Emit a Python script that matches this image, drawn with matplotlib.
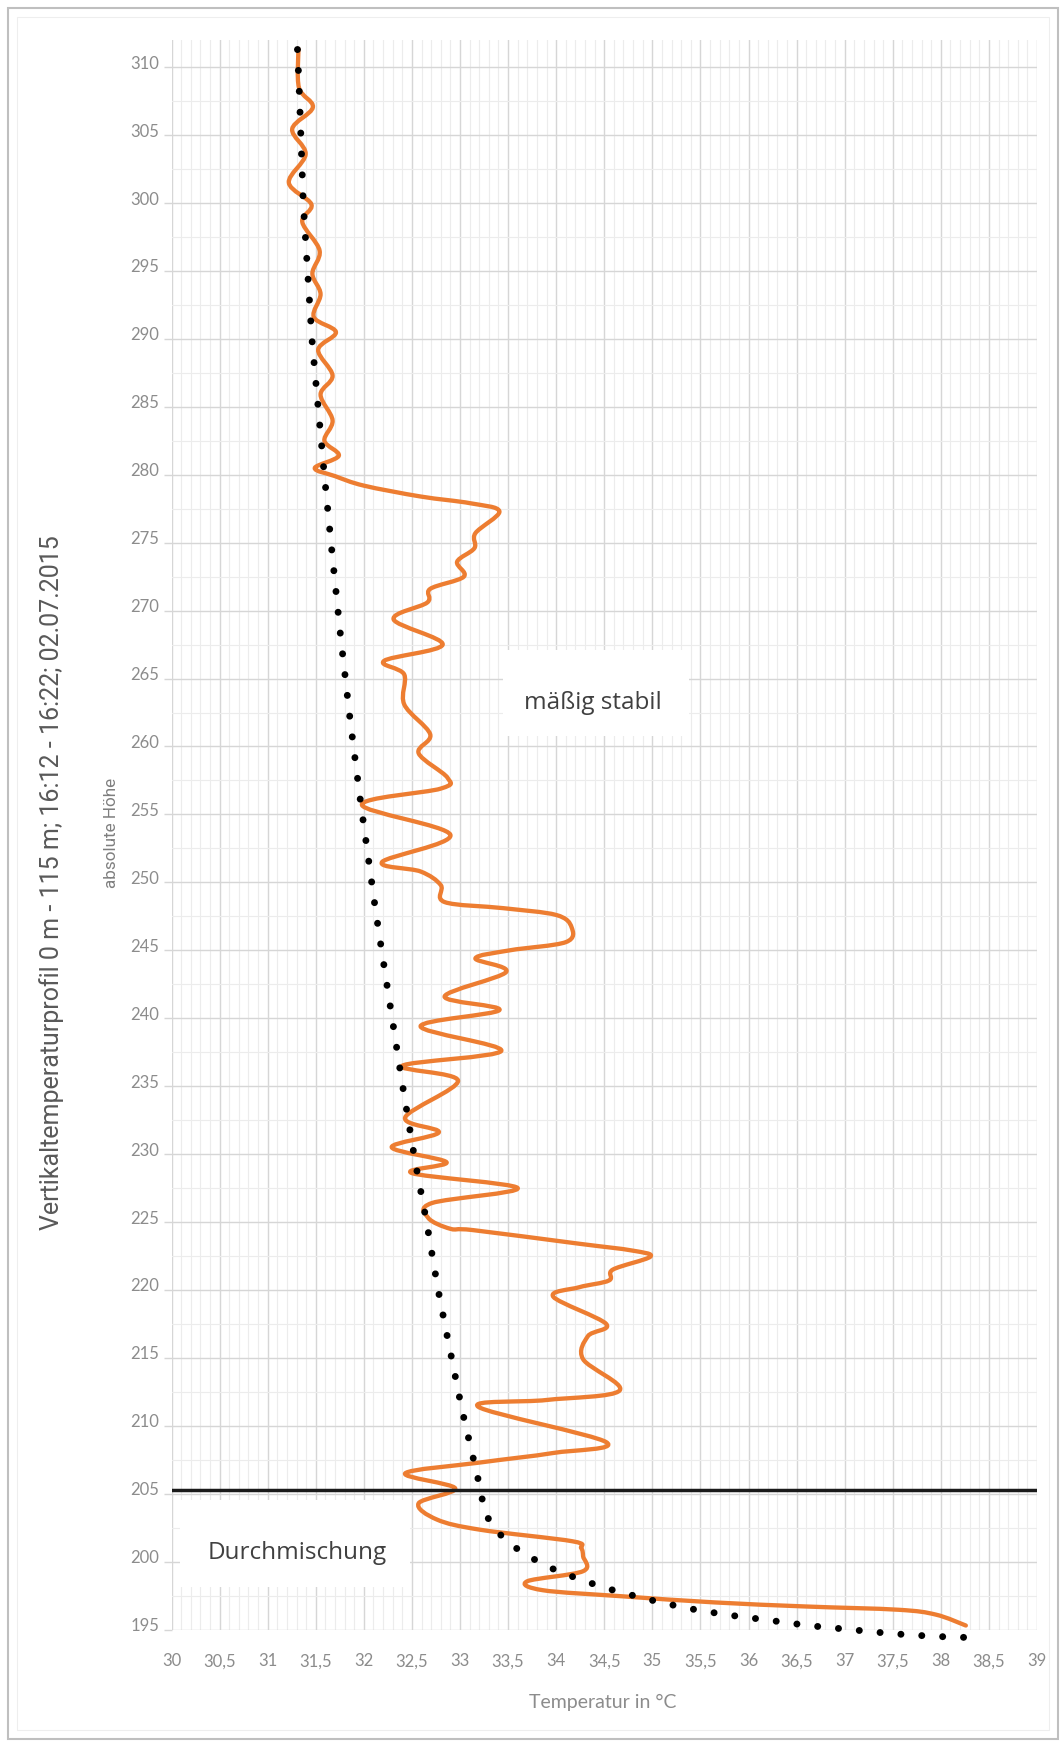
import matplotlib
matplotlib.use("Agg")
import matplotlib.pyplot as plt
from matplotlib.patches import Rectangle, PathPatch
from matplotlib.path import Path
from matplotlib.ticker import MultipleLocator
from matplotlib.transforms import ScaledTranslation

# orange measured profile (temperature, height), top to bottom
profil_temp = [31.32, 31.325, 31.47, 31.255, 31.395, 31.22, 31.455, 31.36, 31.54, 31.465,
               31.55, 31.48, 31.71, 31.525, 31.675, 31.55, 31.675, 31.59, 31.74, 31.49,
               31.7, 32.0, 32.59, 33.11, 33.41, 33.16, 33.15, 32.97, 33.04, 32.69,
               32.66, 32.31, 32.82, 32.21, 32.42, 32.42, 32.69, 32.57, 32.87, 32.80,
               31.98, 32.90, 32.19, 32.59, 32.80, 32.84, 33.45, 34.0, 34.16, 34.1,
               33.52, 33.16, 33.48, 32.84, 33.41, 32.59, 33.43, 32.40, 32.98, 32.43,
               32.78, 32.29, 32.86, 32.5, 33.60, 32.71, 32.67, 32.9, 33.14, 34.24,
               34.79, 34.98, 34.59, 34.55, 34.24, 33.97, 34.52, 34.33, 34.28, 34.66,
               33.90, 33.19, 34.52, 33.97, 33.21, 32.43, 32.95, 32.57, 32.76, 33.21,
               34.17, 34.26, 34.28, 34.28, 33.70, 33.86, 34.69, 35.65, 36.6, 37.56,
               37.95, 38.26]
profil_hoehe = [311.35, 308.5, 307.05, 305.45, 303.6, 301.5, 299.9, 298.6, 296.5, 294.8,
                293.3, 291.6, 290.5, 289.2, 287.3, 285.9, 284.0, 282.5, 281.4, 280.5,
                279.9, 279.2, 278.4, 277.9, 277.3, 275.7, 274.6, 273.6, 272.5, 271.6,
                270.6, 269.35, 267.5, 266.3, 265.3, 263.1, 260.9, 259.5, 257.7, 256.9,
                255.7, 253.5, 251.5, 250.8, 249.8, 248.55, 248.1, 247.6, 246.7, 245.6,
                245.0, 244.4, 243.4, 241.6, 240.6, 239.4, 237.6, 236.5, 235.4, 232.7,
                231.6, 230.5, 229.4, 228.6, 227.5, 226.4, 225.3, 224.5, 224.4, 223.4,
                222.9, 222.45, 221.5, 220.7, 220.2, 219.5, 217.5, 216.6, 214.9, 212.6,
                211.9, 211.4, 208.8, 208.0, 207.3, 206.5, 205.4, 204.3, 203.1, 202.35,
                201.5, 201.0, 200.4, 199.3, 198.56, 197.9, 197.45, 197.0, 196.7, 196.46,
                196.1, 195.3]

# black dotted curve
trend_temp = [31.31, 31.33, 31.37, 31.46, 31.585, 31.67, 31.76, 31.86, 31.97, 32.12,
              32.185, 32.39, 32.53, 32.65, 32.77, 32.85, 33.02, 33.22, 33.25, 33.36,
              33.52, 33.69, 33.89, 34.09, 34.49, 34.91, 35.34, 35.76, 36.20, 36.62,
              37.06, 37.49, 37.93, 38.36]
trend_hoehe = [311.3, 308.0, 300.0, 290.0, 280.3, 274.2, 268.0, 261.8, 255.7, 248.05,
               245.0, 235.6, 229.6, 225.1, 220.1, 217.2, 211.2, 205.1, 203.7, 202.4,
               201.3, 200.5, 199.7, 199.1, 198.1, 197.3, 196.6, 196.1, 195.7, 195.3,
               195.0, 194.7, 194.5, 194.4]

grenze_hoehe = 205.25

x_ticks = [30 + 0.5 * i for i in range(19)]
x_labels = [('%g' % v).replace('.', ',') for v in x_ticks]
y_ticks = list(range(195, 311, 5))


def smooth_path(xs, ys):
    # smoothed line like excel: bezier segments through the read points
    pts = list(zip(xs, ys))
    n = len(pts)
    verts = [pts[0]]
    codes = [Path.MOVETO]
    for i in range(n - 1):
        p0 = pts[i - 1] if i > 0 else pts[i]
        p1 = pts[i]
        p2 = pts[i + 1]
        p3 = pts[i + 2] if i + 2 < n else p2
        c1 = (p1[0] + (p2[0] - p0[0]) / 6, p1[1] + (p2[1] - p0[1]) / 6)
        c2 = (p2[0] - (p3[0] - p1[0]) / 6, p2[1] - (p3[1] - p1[1]) / 6)
        verts += [c1, c2, p2]
        codes += [Path.CURVE4] * 3
    return Path(verts, codes)


W, H = 1062, 1742
fig = plt.figure(figsize=(W / 100, H / 100), dpi=100)
fig.patch.set_facecolor('white')

ax = fig.add_axes([171.5 / W, (H - 1629.6) / H, 865.5 / W, (1629.6 - 40) / H])
ax.set_xlim(30, 39)
ax.set_ylim(195, 312)
for s in ax.spines.values():
    s.set_visible(False)

ax.xaxis.set_minor_locator(MultipleLocator(0.1))
ax.yaxis.set_minor_locator(MultipleLocator(2.5))
ax.set_xticks(x_ticks)
ax.set_xticklabels(x_labels)
ax.set_yticks(y_ticks)
ax.grid(which='major', color='#d6d6d6', lw=1.0)
ax.grid(which='minor', color='#ececec', lw=0.8)
ax.set_axisbelow(True)
ax.tick_params(axis='x', which='both', length=0, pad=17, labelsize=12, labelcolor='#8c8c8c')
ax.tick_params(axis='y', which='major', length=6, color='#d6d6d6', width=1, pad=3,
               labelsize=12, labelcolor='#8c8c8c')
ax.tick_params(axis='y', which='minor', length=0)
for lab in ax.get_xticklabels() + ax.get_yticklabels():
    lab.set_family('Lato')
# y labels sit a little above their grid lines
up = ScaledTranslation(0, 5 / 100, fig.dpi_scale_trans)
for lab in ax.get_yticklabels():
    lab.set_transform(lab.get_transform() + up)

# white label boxes
ax.add_patch(Rectangle((33.446, 260.8), 35.38 - 33.446, 267.08 - 260.8,
                       facecolor='white', edgecolor='none', zorder=2))
ax.add_patch(Rectangle((30.088, 198.13), 32.479 - 30.088, 204.53 - 198.13,
                       facecolor='white', edgecolor='none', zorder=2))

ax.add_patch(PathPatch(smooth_path(profil_temp, profil_hoehe), fill=False,
                       edgecolor='#ED7D31', lw=3.1, zorder=4, joinstyle='round', capstyle='round'))
ax.plot(trend_temp, trend_hoehe, color='black', lw=5.0, linestyle=(0, (0.01, 3.0)),
        dash_capstyle='round', zorder=5, clip_on=False)
ax.axhline(grenze_hoehe, color='#1a1a1a', lw=2.5, zorder=6)

ax.text(34.385, 263.18, 'mäßig stabil', family='Open Sans', fontsize=17.5,
        color='#404040', ha='center', va='center', zorder=7)
ax.text(31.31, 200.63, 'Durchmischung', family='Open Sans', fontsize=17.5,
        color='#404040', ha='center', va='center', zorder=7)

fig.text(51.5 / W, 1 - 883 / H,
         'Vertikaltemperaturprofil 0 m - 115 m; 16:12 - 16:22; 02.07.2015',
         family=['Roboto', 'DejaVu Sans'], fontsize=18, color='#595959',
         rotation=90, ha='center', va='center')
fig.text(111 / W, 1 - 833 / H, 'absolute Höhe', family=['Roboto', 'DejaVu Sans'],
         fontsize=12.3, color='#7f7f7f', rotation=90, ha='center', va='center')
fig.text(603 / W, 1 - 1702 / H, 'Temperatur in °C', family='Lato', fontsize=14,
         color='#8c8c8c', ha='center', va='center')

# outer frame
fig.patches.append(Rectangle((8 / W, 1 - 1739 / H), 1050 / W, 1731 / H, transform=fig.transFigure,
                             fill=False, edgecolor='#bfbfbf', lw=1.5))
fig.patches.append(Rectangle((17 / W, 1 - 1730 / H), 1032 / W, 1713 / H, transform=fig.transFigure,
                             fill=False, edgecolor='#eeeeee', lw=0.8))

fig.savefig('out.png', dpi=100)
